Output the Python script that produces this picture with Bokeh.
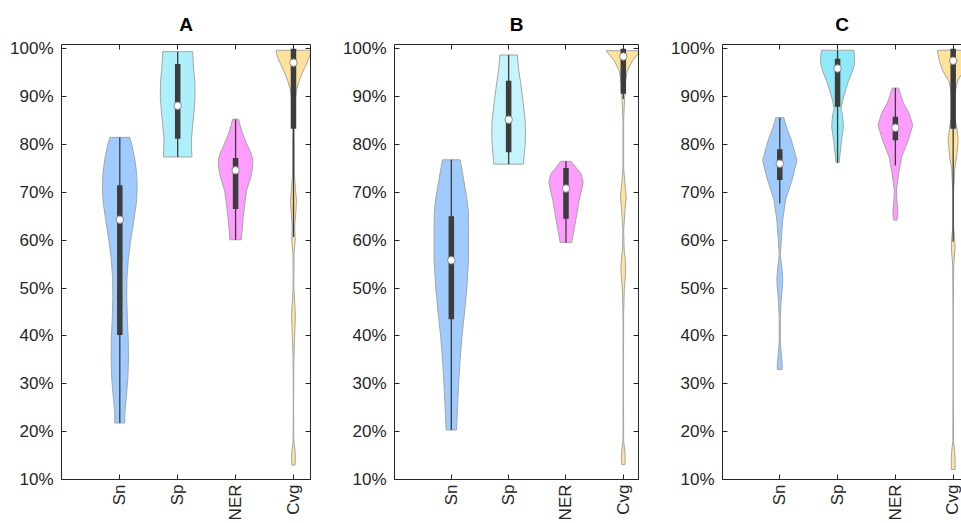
import math
from bokeh.plotting import figure
from bokeh.models import Range1d, FixedTicker, LinearAxis, PrintfTickFormatter, Title
from bokeh.layouts import row
from bokeh.embed import file_html
from bokeh.resources import INLINE

# ---------------- data ----------------
categories = ["Sn", "Sp", "NER", "Cvg"]
cat_pos = [1, 2, 3, 4]
panel_titles = ["A", "B", "C"]
y_ticks = [10, 20, 30, 40, 50, 60, 70, 80, 90, 100]

# violin profiles: value (%) and relative density (1 = widest point)
A_Sn_y = [21.8, 24, 27, 31, 35, 39, 44, 48, 52, 56, 60, 64, 68, 71, 74, 77, 80, 81.5]
A_Sn_d = [0.29, 0.29, 0.37, 0.46, 0.50, 0.49, 0.43, 0.40, 0.41, 0.49, 0.63, 0.80, 0.96, 1.00, 0.97, 0.86, 0.69, 0.57]
A_Sp_y = [77.4, 79, 81, 84, 87, 90, 93, 96, 99.4]
A_Sp_d = [0.82, 0.80, 0.79, 0.86, 0.94, 1.00, 0.99, 0.91, 0.86]
A_NER_y = [60.1, 62, 64.9, 67, 70.4, 73, 75, 76.5, 78, 80, 82, 84, 85.3]
A_NER_d = [0.33, 0.37, 0.44, 0.51, 0.63, 0.86, 0.97, 1.00, 0.91, 0.66, 0.43, 0.26, 0.17]
A_Cvg_y = [13, 14.5, 16, 18, 25, 35, 42, 44, 46, 50, 57, 60, 63, 66, 68.3, 71, 74, 80, 85, 89, 91.3, 93.3, 95, 96.8, 98.5, 99.7]
A_Cvg_d = [0.09, 0.11, 0.09, 0.02, 0.01, 0.02, 0.09, 0.11, 0.09, 0.02, 0.03, 0.10, 0.07, 0.14, 0.17, 0.11, 0.05, 0.05, 0.03, 0.09, 0.17, 0.33, 0.51, 0.74, 0.94, 1.00]

B_Sn_y = [20.35, 25, 30.2, 35, 39.9, 45, 49.8, 55.8, 62, 66, 69, 72.2, 74.5, 76.8]
B_Sn_d = [0.30, 0.36, 0.43, 0.51, 0.62, 0.77, 0.90, 1.00, 1.00, 0.99, 0.89, 0.74, 0.63, 0.51]
B_Sp_y = [75.9, 78, 80, 82.2, 85, 89.2, 93, 96, 98.7]
B_Sp_d = [0.86, 0.91, 0.96, 0.98, 0.96, 0.83, 0.69, 0.57, 0.51]
B_NER_y = [59.5, 62, 64.2, 66, 68.3, 70.5, 72.2, 74, 75.5, 76.5]
B_NER_d = [0.33, 0.46, 0.57, 0.66, 0.76, 0.91, 1.00, 0.86, 0.51, 0.29]
B_Cvg_y = [13.1, 14.5, 16, 18, 30, 45, 50, 52, 54, 56, 58, 62, 66, 69, 72, 75, 85, 88.5, 90.2, 91.5, 92.7, 95.4, 97.5, 99.6]
B_Cvg_d = [0.09, 0.11, 0.09, 0.02, 0.01, 0.02, 0.06, 0.11, 0.14, 0.11, 0.05, 0.02, 0.09, 0.17, 0.09, 0.02, 0.02, 0.06, 0.09, 0.09, 0.11, 0.23, 0.53, 1.00]

C_Sn_y = [33, 34.2, 36, 39, 43.5, 47, 50, 51.8, 54, 57, 60.2, 64.3, 68.5, 72.6, 76.7, 80.9, 83.5, 85.6]
C_Sn_d = [0.14, 0.14, 0.09, 0.03, 0.03, 0.07, 0.14, 0.17, 0.13, 0.03, 0.09, 0.17, 0.34, 0.71, 0.99, 0.67, 0.40, 0.23]
C_Sp_y = [76.2, 78, 80.9, 83.7, 86, 87.5, 89.2, 91, 93.3, 95, 96.8, 98.5, 99.7]
C_Sp_d = [0.09, 0.14, 0.23, 0.34, 0.29, 0.20, 0.29, 0.43, 0.63, 0.83, 0.97, 0.97, 0.93]
C_NER_y = [64.2, 65.5, 66.3, 68, 70.5, 74, 77.4, 80.9, 84, 86.5, 88.6, 90.5, 91.8]
C_NER_d = [0.09, 0.14, 0.14, 0.09, 0.06, 0.19, 0.36, 0.74, 1.00, 0.80, 0.47, 0.29, 0.19]
C_Cvg_y = [12.1, 14, 15.8, 18, 30, 45, 55, 57.5, 58.7, 60, 63, 70, 75, 77.4, 80.9, 83.7, 86, 89, 91.5, 93.3, 95.4, 97.5, 99.7]
C_Cvg_d = [0.11, 0.11, 0.09, 0.02, 0.01, 0.01, 0.03, 0.09, 0.11, 0.09, 0.02, 0.02, 0.09, 0.20, 0.29, 0.20, 0.06, 0.06, 0.14, 0.26, 0.60, 0.80, 0.91]

# box statistics (order Sn, Sp, NER, Cvg)
A_q1 = [40.2, 81.2, 66.5, 83.3]
A_med = [64.3, 88.1, 74.6, 97.1]
A_q3 = [71.5, 96.8, 77.2, 100.0]
A_lo = [21.8, 77.4, 60.1, 60.7]
A_hi = [81.5, 99.4, 85.3, 100.0]

B_q1 = [43.5, 78.4, 64.5, 90.6]
B_med = [55.8, 85.2, 70.8, 98.4]
B_q3 = [65.0, 93.3, 75.1, 100.0]
B_lo = [20.35, 75.9, 59.5, 89.5]
B_hi = [76.8, 98.7, 76.5, 100.0]

C_q1 = [72.6, 87.9, 80.9, 83.3]
C_med = [76.0, 95.9, 83.5, 97.5]
C_q3 = [79.0, 97.9, 85.8, 100.0]
C_lo = [67.7, 76.2, 75.6, 59.7]
C_hi = [85.6, 99.7, 91.8, 100.0]

# ---------------- styling ----------------
AX = "#262626"
SN_COL = "#9fcbfe"
NER_COL = "#fe9dfd"
CVG_COL = "#ffe39b"
SP_COLS = ["#adf0fb", "#c6f4fc", "#8fe9f8"]
HALF_W = 0.30

panels = [
    dict(title=panel_titles[0],
         prof=[(A_Sn_y, A_Sn_d), (A_Sp_y, A_Sp_d), (A_NER_y, A_NER_d), (A_Cvg_y, A_Cvg_d)],
         stats=(A_q1, A_med, A_q3, A_lo, A_hi), sp=SP_COLS[0],
         width=340, bl=61, br=30, xr=(-0.007, 4.294), right=True),
    dict(title=panel_titles[1],
         prof=[(B_Sn_y, B_Sn_d), (B_Sp_y, B_Sp_d), (B_NER_y, B_NER_d), (B_Cvg_y, B_Cvg_d)],
         stats=(B_q1, B_med, B_q3, B_lo, B_hi), sp=SP_COLS[1],
         width=328, bl=52, br=30, xr=(0.009, 4.265), right=True),
    dict(title=panel_titles[2],
         prof=[(C_Sn_y, C_Sn_d), (C_Sp_y, C_Sp_d), (C_NER_y, C_NER_d), (C_Cvg_y, C_Cvg_d)],
         stats=(C_q1, C_med, C_q3, C_lo, C_hi), sp=SP_COLS[2],
         width=293, bl=54, br=0, xr=(0.009, 4.144), right=False),
]


def style_axis(ax, standoff, size="17px"):
    ax.axis_line_color = AX
    ax.axis_line_width = 1
    ax.major_tick_line_color = AX
    ax.major_tick_in = 5
    ax.major_tick_out = 0
    ax.minor_tick_line_color = None
    ax.major_label_text_font = "Liberation Sans"
    ax.major_label_text_font_size = size
    ax.major_label_text_color = AX
    ax.major_label_standoff = standoff


figs = []
for pan in panels:
    p = figure(width=pan["width"], height=523,
               x_range=Range1d(*pan["xr"]), y_range=Range1d(10, 100.9),
               output_backend="svg", toolbar_location=None, title=None,
               x_axis_location=None, y_axis_location=None,
               min_border_left=pan["bl"], min_border_right=pan["br"],
               min_border_top=44, min_border_bottom=43)
    p.outline_line_color = None
    p.grid.visible = False
    p.background_fill_color = "white"
    p.border_fill_color = "white"

    colors = [SN_COL, pan["sp"], NER_COL, CVG_COL]
    for c, (ys, ds), col in zip(cat_pos, pan["prof"], colors):
        xs = [c - d * HALF_W for d in ds] + [c + d * HALF_W for d in reversed(ds)]
        yy = list(ys) + list(reversed(ys))
        p.patch(xs, yy, fill_color=col, line_color="#a5a5a5", line_width=1)

    q1, med, q3, lo, hi = pan["stats"]
    p.segment(x0=cat_pos, y0=lo, x1=cat_pos, y1=hi, line_color="#3c3c3c", line_width=1.3)
    p.segment(x0=cat_pos, y0=q1, x1=cat_pos, y1=q3, line_color="#3c3c3c", line_width=5.5,
              line_cap="butt")
    p.scatter(cat_pos, med, size=7.5, fill_color="white", line_color="#8a8a8a", line_width=1)

    left = LinearAxis(ticker=FixedTicker(ticks=y_ticks),
                      formatter=PrintfTickFormatter(format="%d%%"))
    style_axis(left, 8)
    p.add_layout(left, "left")

    bottom = LinearAxis(ticker=FixedTicker(ticks=cat_pos),
                        major_label_overrides={k: v for k, v in zip(cat_pos, categories)})
    style_axis(bottom, 5)
    bottom.major_label_orientation = math.pi / 2
    p.add_layout(bottom, "below")

    top = LinearAxis(ticker=FixedTicker(ticks=cat_pos),
                     major_label_overrides={k: "" for k in cat_pos})
    style_axis(top, 0, "0px")
    p.add_layout(top, "above")

    if pan["right"]:
        right = LinearAxis(ticker=FixedTicker(ticks=y_ticks),
                           major_label_overrides={k: "" for k in y_ticks})
        style_axis(right, 0, "0px")
        p.add_layout(right, "right")

    t = Title(text=pan["title"], align="center", text_font="Liberation Sans",
              text_font_size="19px", text_font_style="bold", text_color="black",
              standoff=19)
    p.add_layout(t, "above")
    figs.append(p)

layout = row(*figs)
open("out.html", "w").write(file_html(layout, INLINE))
